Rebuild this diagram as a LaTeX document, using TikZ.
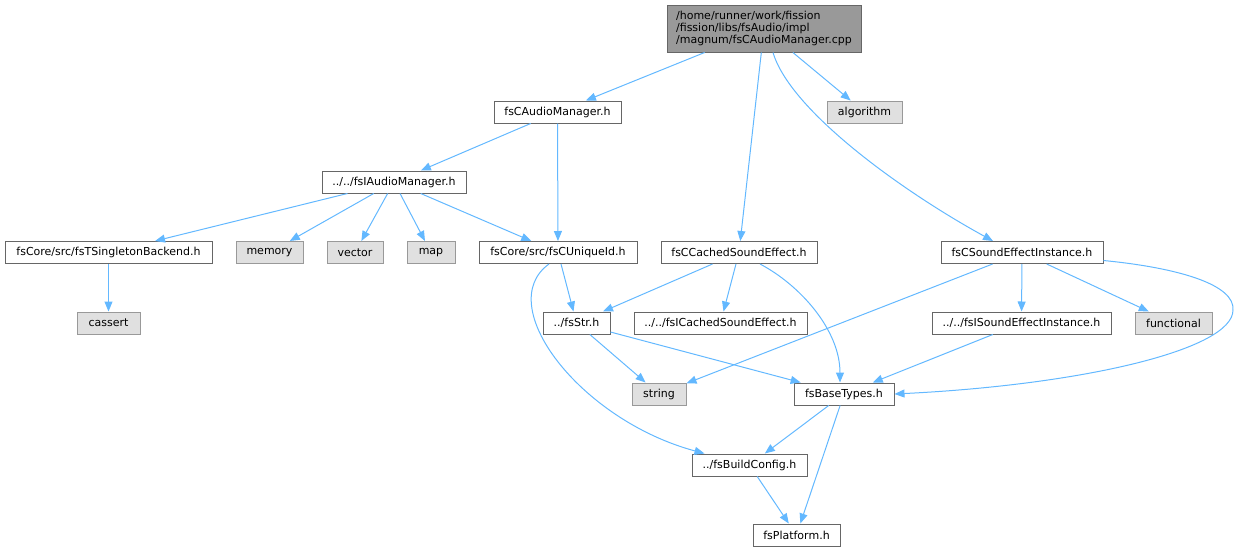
\documentclass[tikz,border=0pt]{standalone}
\usepackage{fontspec}
\setmainfont{DejaVu Sans}
\usetikzlibrary{arrows.meta}
\definecolor{edgeblue}{HTML}{63B8FF}
\definecolor{boxline}{HTML}{666666}
\definecolor{sysfill}{HTML}{E0E0E0}
\definecolor{sysline}{HTML}{999999}

\begin{document}
\begin{tikzpicture}[x=1pt, y=-1pt,
    file/.style={draw=boxline, fill=white, line width=1pt, minimum height=22, inner sep=0pt, font=\fontsize{11}{12}\selectfont},
    sys/.style={file, draw=sysline, fill=sysfill},
    inc/.style={draw=edgeblue, line width=1pt, -{Triangle[length=10pt,width=8pt]}}]
    \useasboundingbox (0,0) rectangle (1240,552);
    \node[file, fill=sysline, minimum width=194, minimum height=47, align=left] (main) at (764,28.5) {/home/runner/work/fission\\/fission/libs/fsAudio/impl\\/magnum/fsCAudioManager.cpp};
    \node[file, minimum width=127] (cam) at (557.5,112) {fsCAudioManager.h};
    \node[sys, minimum width=75] (algo) at (864.5,112) {algorithm};
    \node[file, minimum width=144] (iam) at (394,182) {../../fsIAudioManager.h};
    \node[file, minimum width=207] (tsb) at (108.5,252.5) {fsCore/src/fsTSingletonBackend.h};
    \node[sys, minimum width=67] (mem) at (269.5,252.5) {memory};
    \node[sys, minimum width=56] (vec) at (355,252.5) {vector};
    \node[sys, minimum width=48] (map) at (431,252.5) {map};
    \node[file, minimum width=158] (uid) at (558,252.5) {fsCore/src/fsCUniqueId.h};
    \node[file, minimum width=156] (cse) at (739,252.5) {fsCCachedSoundEffect.h};
    \node[file, minimum width=162] (sei) at (1022,252.5) {fsCSoundEffectInstance.h};
    \node[sys, minimum width=63] (cas) at (108.5,323) {cassert};
    \node[file, minimum width=67] (str) at (576.5,323) {../fsStr.h};
    \node[file, minimum width=173] (ice) at (720.5,323) {../../fsICachedSoundEffect.h};
    \node[file, minimum width=179] (isei) at (1021.5,323) {../../fsISoundEffectInstance.h};
    \node[sys, minimum width=77] (fun) at (1173.5,323) {functional};
    \node[sys, minimum width=54] (string) at (659,394) {string};
    \node[file, minimum width=100] (bt) at (844,394) {fsBaseTypes.h};
    \node[file, minimum width=115] (bc) at (749.5,465) {../fsBuildConfig.h};
    \node[file, minimum width=87] (plat) at (796.5,535) {fsPlatform.h};

    \draw[inc] (main) -- (cam);
    \draw[inc] (main) -- (cse);
    \draw[inc] (main) -- (algo);
    \draw[inc] ([xshift=9]main.south) .. controls (790,110) and (900,190) .. ([xshift=-29]sei.north);
    \draw[inc] (cam) -- (iam);
    \draw[inc] (cam) -- (uid);
    \draw[inc] (iam) -- (tsb);
    \draw[inc] (iam) -- (mem);
    \draw[inc] (iam) -- (vec);
    \draw[inc] (iam) -- (map);
    \draw[inc] (iam) -- (uid);
    \draw[inc] (tsb) -- (cas);
    \draw[inc] (uid) -- (str);
    \draw[inc] ([xshift=-9]uid.south) .. controls (492,305) and (580,420) .. ([xshift=-45]bc.north);
    \draw[inc] (cse) -- (str);
    \draw[inc] (cse) -- (ice);
    \draw[inc] ([xshift=21]cse.south) .. controls (800,285) and (840,330) .. ([xshift=-4]bt.north);
    \draw[inc] (sei) -- (string);
    \draw[inc] (sei) -- (isei);
    \draw[inc] (sei) -- (fun);
    \draw[inc] ([yshift=-8]sei.east) .. controls (1180,268) and (1235,285) .. (1233,310) .. controls (1233,350) and (1080,385) .. (bt.east);
    \draw[inc] (str) -- (string);
    \draw[inc] (str) -- (bt);
    \draw[inc] (isei) -- (bt);
    \draw[inc] (bt) -- (bc);
    \draw[inc] (bt) -- (plat);
    \draw[inc] (bc) -- (plat);
\end{tikzpicture}
\end{document}
